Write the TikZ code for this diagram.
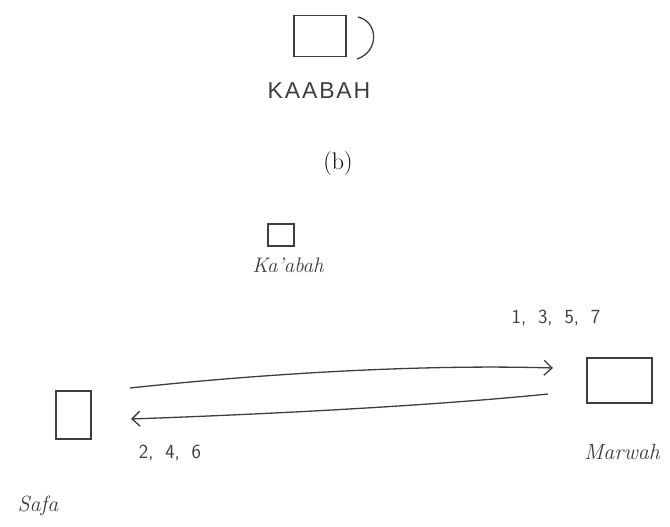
\documentclass[tikz,border=0pt]{standalone}
\usepackage{fontspec}
\usepackage{tikz}
\usetikzlibrary{arrows.meta, positioning}
\definecolor{pencil}{RGB}{62,62,62}
\newfontfamily\capsfont[LetterSpace=8]{Liberation Sans}

\begin{document}
\begin{tikzpicture}[x=1pt, y=-1pt,
  sketch/.style={draw=pencil, line width=1.3pt, inner sep=0pt},
  hand/.style={text=pencil, inner sep=0pt, font=\itshape\fontsize{22}{26}\selectfont},
  count/.style={text=pencil, inner sep=0pt, font=\sffamily\fontsize{20}{24}\selectfont},
  walk/.style={draw=pencil, line width=1.3pt, -{Straight Barb[length=8pt, width=15pt]}}
]
\useasboundingbox (0,0) rectangle (670,527);

% the first sketch
\node[sketch, minimum width=52pt, minimum height=41pt] (kaabah) at (320,36) {};
\coordinate (door top) at (358,17);
\coordinate (door bottom) at (357,59);
\draw[pencil, line width=1.3pt] (door top) .. controls (379,22) and (379,52) .. (door bottom);
\node[text=pencil, inner sep=0pt, font=\capsfont\fontsize{23}{26}\selectfont, below=25pt of kaabah, xshift=-1pt] (kaabah name) {KAABAH};

\node[font=\fontsize{24}{28}\selectfont] (caption) at (338,164) {(b)};

% the second sketch
\node[sketch, minimum width=26pt, minimum height=22pt] (kaabah small) at (281,235) {};
\node[hand, font=\itshape\fontsize{21}{24}\selectfont, below=11pt of kaabah small, xshift=7pt] (kaabah small name) {Ka'abah};

\node[sketch, minimum width=35pt, minimum height=48pt] (safa) at (73.5,415) {};
\node[sketch, minimum width=65pt, minimum height=45pt] (marwah) at (619.5,380.5) {};
\node[hand] (safa name) at (38,506) {Safa};
\node[hand] (marwah name) at (622,452) {Marwah};

\coordinate (go from) at (130,388);
\coordinate (go to) at (553,368);
\coordinate (back from) at (548,394);
\coordinate (back to) at (131,419);
\draw[walk] (go from) .. controls (260,374) and (420,364) .. (go to);
\draw[walk] (back from) .. controls (450,404) and (300,413) .. (back to);

\node[count] (odd laps) at (556,318) {1,\; 3,\; 5,\; 7};
\node[count] (even laps) at (170,453) {2,\; 4,\; 6};
\end{tikzpicture}
\end{document}
